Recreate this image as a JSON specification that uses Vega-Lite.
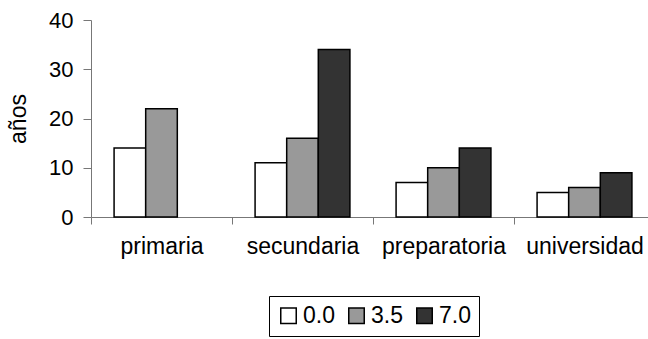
{
  "$schema": "https://vega.github.io/schema/vega-lite/v6.json",
  "autosize": {"type": "none"},
  "padding": {"left": 91, "top": 20, "right": 0, "bottom": 122},
  "width": 557,
  "height": 197,
  "background": "white",
  "config": {
    "font": "Liberation Sans",
    "view": {"stroke": null}
  },
  "data": {
    "values": [
      {"nivel": "primaria", "serie": "0.0", "anos": 14},
      {"nivel": "primaria", "serie": "3.5", "anos": 22},
      {"nivel": "secundaria", "serie": "0.0", "anos": 11},
      {"nivel": "secundaria", "serie": "3.5", "anos": 16},
      {"nivel": "secundaria", "serie": "7.0", "anos": 34},
      {"nivel": "preparatoria", "serie": "0.0", "anos": 7},
      {"nivel": "preparatoria", "serie": "3.5", "anos": 10},
      {"nivel": "preparatoria", "serie": "7.0", "anos": 14},
      {"nivel": "universidad", "serie": "0.0", "anos": 5},
      {"nivel": "universidad", "serie": "3.5", "anos": 6},
      {"nivel": "universidad", "serie": "7.0", "anos": 9}
    ]
  },
  "mark": {"type": "bar", "stroke": "black", "strokeWidth": 1.5},
  "encoding": {
    "x": {
      "field": "nivel",
      "type": "nominal",
      "sort": ["primaria", "secundaria", "preparatoria", "universidad"],
      "scale": {"range": [0, 564], "paddingInner": 0, "paddingOuter": 0},
      "axis": {
        "title": null,
        "labelAngle": 0,
        "labelFontSize": 23,
        "labelColor": "black",
        "labelPadding": 11,
        "tickBand": "extent",
        "tickSize": 7,
        "tickColor": "#777777",
        "domainColor": "#777777",
        "labelLimit": 200
      }
    },
    "xOffset": {
      "field": "serie",
      "type": "nominal",
      "sort": ["0.0", "3.5", "7.0"],
      "scale": {"paddingInner": 0, "paddingOuter": 0.73}
    },
    "y": {
      "field": "anos",
      "type": "quantitative",
      "scale": {"domain": [0, 40], "nice": false},
      "axis": {
        "title": "años",
        "titleFontSize": 23,
        "titleFontWeight": "normal",
        "titleColor": "black",
        "titlePadding": 18,
        "values": [0, 10, 20, 30, 40],
        "grid": false,
        "labelFontSize": 22,
        "labelColor": "black",
        "labelPadding": 10,
        "tickSize": 8,
        "tickColor": "#777777",
        "domainColor": "#777777"
      }
    },
    "color": {
      "field": "serie",
      "type": "nominal",
      "sort": ["0.0", "3.5", "7.0"],
      "scale": {"domain": ["0.0", "3.5", "7.0"], "range": ["#ffffff", "#999999", "#333333"]},
      "legend": {
        "title": null,
        "orient": "none",
        "legendX": 178,
        "legendY": 276,
        "direction": "horizontal",
        "symbolType": "square",
        "symbolSize": 240,
        "symbolStrokeColor": "black",
        "symbolStrokeWidth": 1.5,
        "labelFontSize": 23,
        "labelColor": "black",
        "labelOffset": 3,
        "columnPadding": 10,
        "strokeColor": "black",
        "fillColor": "white",
        "padding": 8
      }
    }
  }
}
